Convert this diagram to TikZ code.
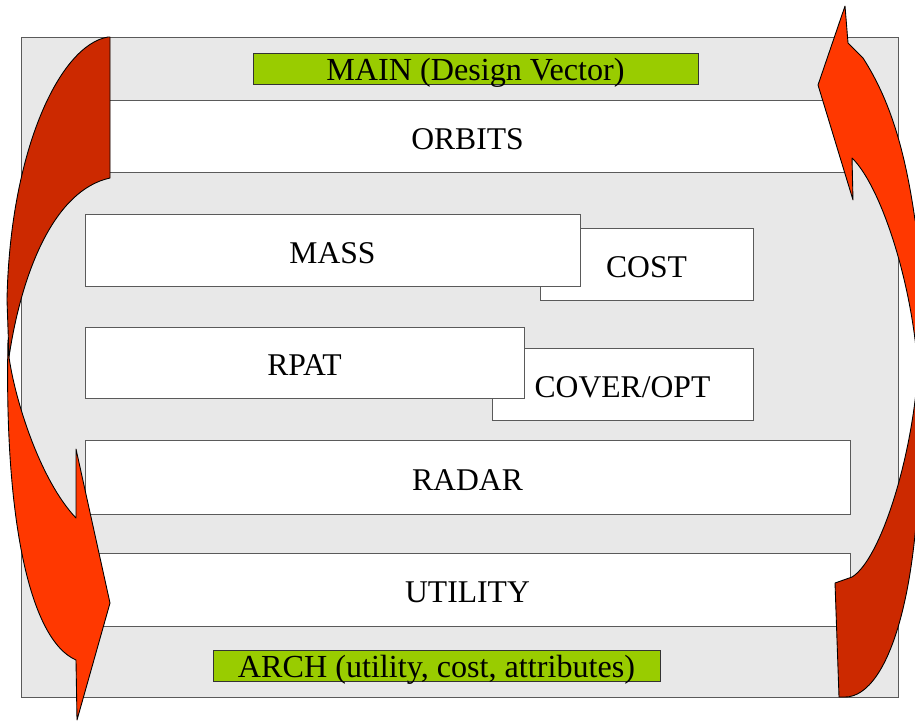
\documentclass[tikz,border=0pt]{standalone}
\usepackage{fontspec}
\setmainfont{Liberation Serif}
\usetikzlibrary{positioning}
\definecolor{PanelGray}{RGB}{232,232,232}
\definecolor{EdgeGray}{RGB}{90,90,90}
\definecolor{VecGreen}{RGB}{153,204,0}
\definecolor{LoopRed}{RGB}{204,41,0}
\definecolor{LoopOrange}{RGB}{255,56,0}
\tikzset{
  blk/.style={draw=EdgeGray,fill=white,inner sep=0pt,minimum height=1.44cm,
    text height=15.3pt,text depth=0pt,font=\fontsize{18}{20}\selectfont},
  vec/.style={draw=black!80,fill=VecGreen,inner sep=0pt,minimum height=0.62cm,
    text height=13.5pt,text depth=0pt,font=\fontsize{18.3}{20}\selectfont},
  back/.style={draw=black,fill=LoopRed,line width=0.5pt,line join=round},
  front/.style={draw=black,fill=LoopOrange,line width=0.5pt,line join=round},
}

\begin{document}
\begin{tikzpicture}[x=0.02cm,y=-0.02cm]
\useasboundingbox (0,0) rectangle (915,724);
\clip (0,0) rectangle (915,724);
\fill[white] (0,0) rectangle (915,724);
% panel
\draw[EdgeGray,fill=PanelGray] (21,37) rectangle (898,697);
% modules
\node[vec,minimum width=8.9cm] (main) at (475.5,68.5) {MAIN (Design Vector)};
\node[blk,minimum width=15.3cm] (orbits) at (467.5,136) {ORBITS};
\node[blk,minimum width=4.26cm] (cost) at (646.5,264) {COST};
\node[blk,minimum width=9.9cm] (mass) at (332.5,250) {MASS};
\node[blk,minimum width=5.22cm] (cover) at (622.5,384) {COVER/OPT};
\node[blk,minimum width=8.78cm,minimum height=1.42cm] (rpat) at (304.5,362.5) {RPAT};
\node[blk,minimum width=15.3cm,minimum height=1.48cm] (radar) at (467.5,477) {RADAR};
\node[blk,minimum width=15.3cm,minimum height=1.46cm] (utility) at (467.5,589.5) {UTILITY};
\node[vec,minimum width=8.94cm] (arch) at (436.5,665.5) {ARCH (utility, cost, attributes)};
% left loop
\draw[back] (110,37) -- (108,37) .. controls (60,45) and (10,150) .. (7,300)
  -- (9,357) .. controls (22,270) and (55,190) .. (110,178) -- cycle;
\draw[front] (8,340) .. controls (4,520) and (30,640) .. (76,660)
  -- (77,720) -- (110,603) -- (76,449) -- (76,518)
  .. controls (40,480) and (15,400) .. (9,357) -- cycle;
% right loop
\draw[back] (918,370) .. controls (928,580) and (890,697) .. (845,697)
  -- (839,697) -- (835,583) -- (852,577)
  .. controls (880,560) and (912,460) .. (918,370) -- cycle;
\draw[front] (845,6) -- (818,85) -- (853,200) -- (852,158)
  .. controls (880,185) and (912,280) .. (918,370)
  .. controls (922,300) and (920,230) .. (915,220)
  .. controls (905,150) and (890,100) .. (863,58)
  -- (848,43) -- cycle;
\end{tikzpicture}
\end{document}
